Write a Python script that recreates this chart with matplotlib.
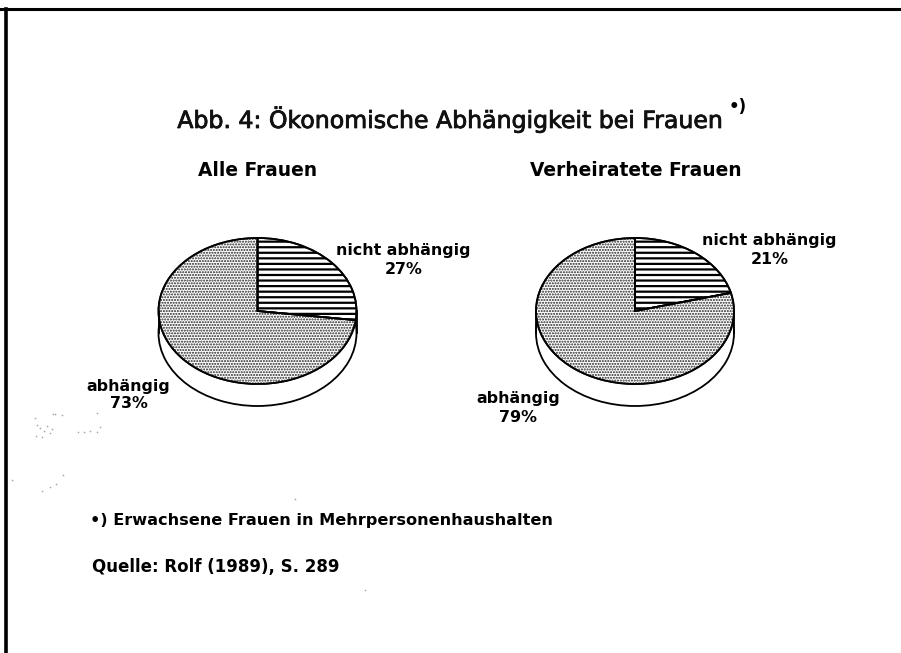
import matplotlib
matplotlib.use("Agg")
import matplotlib.pyplot as plt
import matplotlib.patheffects as pe

# Anteile in Prozent
labels = ["nicht abhängig", "abhängig"]
alle_frauen = [27, 73]
verheiratete = [21, 79]

# Scan-Flecken auf der Seite
speck_x = [35, 37, 40, 44, 47, 50, 53, 36, 42, 52, 78, 84, 90, 97, 100, 97, 55, 62, 12, 42, 50, 56, 63, 365, 295]
speck_y = [418, 425, 428, 431, 426, 433, 414, 436, 437, 429, 432, 432, 431, 432, 427, 413, 414, 415, 480, 491, 487, 484, 475, 590, 499]

W, H = 901, 653
plt.rcParams['font.family'] = ['DejaVu Sans']
plt.rcParams['hatch.linewidth'] = 1.6

fig = plt.figure(figsize=(W / 100, H / 100), dpi=100)

# Seite mit Pixelkoordinaten fuer Texte und Rahmen
page = fig.add_axes([0, 0, 1, 1])
page.set_xlim(0, W)
page.set_ylim(H, 0)
page.axis('off')


def draw_pie(cx, values):
    rx, ry, depth = 99, 73, 22
    # axes so gross, dass pie mit Radius 1 genau passt
    ax = fig.add_axes([(cx - rx * 1.25) / W, 1 - (311 + ry * 1.25) / H,
                       rx * 2.5 / W, ry * 2.5 / H])
    d = depth / ry
    # Boden und Seitenwand
    ax.pie([100], center=(0, -d), radius=1, startangle=90, colors=['white'],
           wedgeprops=dict(edgecolor='black', linewidth=1.3))
    ax.plot([-1, -1], [0, -d], color='black', lw=1.3)
    ax.plot([1, 1], [0, -d], color='black', lw=1.3)
    # Deckel
    wedges, _ = ax.pie(values, startangle=90, counterclock=False, radius=1,
                       colors=['white', 'white'],
                       wedgeprops=dict(edgecolor='black', linewidth=1.3))
    wedges[0].set_hatch('---')
    wedges[1].set_hatch('......')
    wedges[1].set_hatch_linewidth(1.0)
    wedges[1].set_edgecolor('#222222')
    # Umriss noch einmal in schwarz
    ax.pie(values, startangle=90, counterclock=False, radius=1,
           wedgeprops=dict(edgecolor='black', linewidth=1.3, fill=False))
    ax.set_xlim(-1.25, 1.25)
    ax.set_ylim(-1.25, 1.25)
    ax.set_aspect('auto')
    return ax


draw_pie(257.5, alle_frauen)
draw_pie(635, verheiratete)

page.plot([0, W], [8.5, 8.5], color='black', lw=2.2)
page.plot([6, 6], [8.5, H], color='black', lw=2.6)
page.scatter(speck_x, speck_y, s=1.5, color='#aaaaaa', linewidths=0)

title = page.text(450, 119, "Abb. 4: Ökonomische Abhängigkeit bei Frauen", fontsize=17,
                  ha='center', va='center', color='#111111')
title.set_path_effects([pe.withStroke(linewidth=0.6, foreground='#111111')])
page.text(738, 107, "•)", fontsize=12, ha='center', va='center', weight='bold')
page.text(258, 171, "Alle Frauen", fontsize=13.4, ha='center', va='center', weight='bold')
page.text(636, 171, "Verheiratete Frauen", fontsize=13.4, ha='center', va='center', weight='bold')


def pie_label(x, y, name, value, gap=18):
    page.text(x, y, name, fontsize=11.4, ha='center', va='center', weight='bold')
    page.text(x, y + gap, f"{value}%", fontsize=11.4, ha='center', va='center', weight='bold')


pie_label(403.5, 250, labels[0], alle_frauen[0], 19)
pie_label(769.5, 241, labels[0], verheiratete[0])
pie_label(128.5, 387, labels[1], alle_frauen[1], 17)
pie_label(518, 398, labels[1], verheiratete[1], 19)

page.text(90, 520, "•) Erwachsene Frauen in Mehrpersonenhaushalten", fontsize=11.6,
          ha='left', va='center', weight='bold')
page.text(92, 567, "Quelle: Rolf (1989), S. 289", fontsize=12,
          ha='left', va='center', weight='bold')

fig.savefig("out.png", dpi=100)
